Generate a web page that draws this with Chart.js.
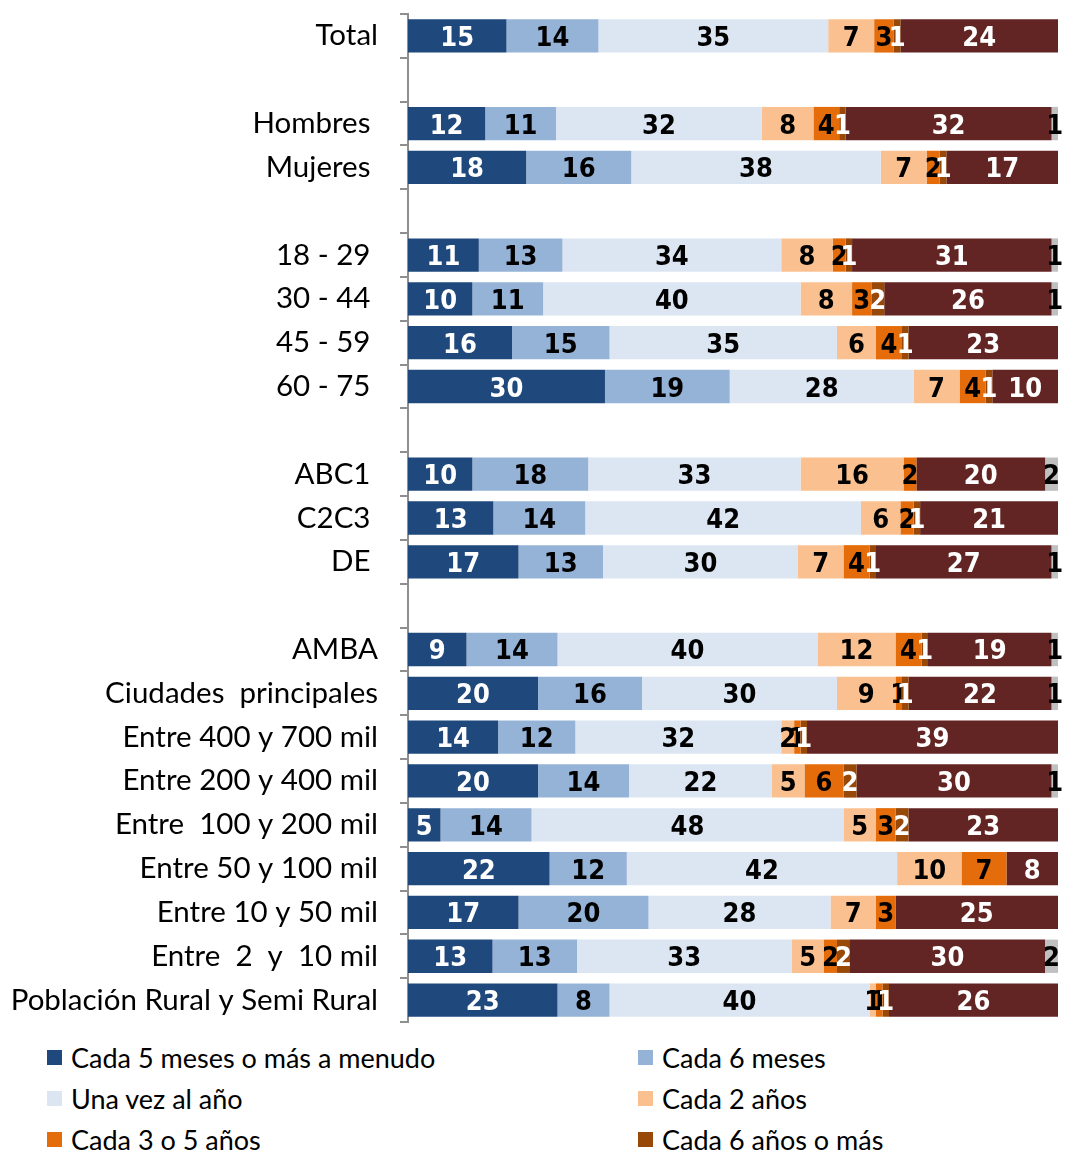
<!DOCTYPE html>
<html lang="es">
<head>
<meta charset="utf-8">
<title>Frecuencia</title>
<script src="https://cdn.jsdelivr.net/npm/chart.js@4.4.1/dist/chart.umd.min.js"></script>
<style>
    body { margin: 0; background: #fff; }
    .wrap { position: relative; width: 1065px; height: 1150px; }
    #chart { position: absolute; left: 0; top: 0; }
    .legend-item {
        position: absolute;
        display: flex;
        align-items: center;
        font: 27px Lato, "Open Sans", sans-serif;
        color: #000;
        white-space: nowrap;
        height: 30px;
    }
    .legend-item span.box {
        display: inline-block;
        width: 15px;
        height: 15px;
        margin-right: 9px;
    }
</style>
</head>
<body>
<div class="wrap">
    <canvas id="chart" width="1065" height="1030"></canvas>
    <div id="legend"></div>
</div>
<script>
/* ── DATA ───────────────────────────────────── */
// empty strings are spacer rows between groups
const categories = [
    'Total', '', 'Hombres ', 'Mujeres ', '',
    '18 - 29 ', '30 - 44 ', '45 - 59 ', '60 - 75 ', '',
    'ABC1 ', 'C2C3 ', 'DE ', '',
    'AMBA', 'Ciudades  principales', 'Entre 400 y 700 mil', 'Entre 200 y 400 mil',
    'Entre  100 y 200 mil', 'Entre 50 y 100 mil', 'Entre 10 y 50 mil', 'Entre  2  y  10 mil',
    'Población Rural y Semi Rural'
];

const cada5Meses   = [15, null, 12, 18, null, 11, 10, 16, 30, null, 10, 13, 17, null,  9, 20, 14, 20,  5, 22, 17, 13, 23];
const cada6Meses   = [14, null, 11, 16, null, 13, 11, 15, 19, null, 18, 14, 13, null, 14, 16, 12, 14, 14, 12, 20, 13,  8];
const unaVezAlAnio = [35, null, 32, 38, null, 34, 40, 35, 28, null, 33, 42, 30, null, 40, 30, 32, 22, 48, 42, 28, 33, 40];
const cada2Anios   = [ 7, null,  8,  7, null,  8,  8,  6,  7, null, 16,  6,  7, null, 12,  9,  2,  5,  5, 10,  7,  5,  1];
const cada3a5Anios = [ 3, null,  4,  2, null,  2,  3,  4,  4, null,  2,  2,  4, null,  4,  1,  1,  6,  3,  7,  3,  2,  1];
const cada6Anios   = [ 1, null,  1,  1, null,  1,  2,  1,  1, null,  0,  1,  1, null,  1,  1,  1,  2,  2,  0,  0,  2,  1];
const nunca        = [24, null, 32, 17, null, 31, 26, 23, 10, null, 20, 21, 27, null, 19, 22, 39, 30, 23,  8, 25, 30, 26];
const nsnc         = [ 0, null,  1,  0, null,  1,  1,  0,  0, null,  2,  0,  1, null,  1,  1,  0,  1,  0,  0,  0,  2,  0];

const series = [
    { name: 'Cada 5 meses o más a menudo', values: cada5Meses,   color: '#1F497D', text: '#fff', legend: true },
    { name: 'Cada 6 meses',                values: cada6Meses,   color: '#95B3D7', text: '#000', legend: true },
    { name: 'Una vez al año',              values: unaVezAlAnio, color: '#DCE6F2', text: '#000', legend: true },
    { name: 'Cada 2 años',                 values: cada2Anios,   color: '#FAC090', text: '#000', legend: true },
    { name: 'Cada 3 o 5 años',             values: cada3a5Anios, color: '#E46C0A', text: '#000', legend: true },
    { name: 'Cada 6 años o más',           values: cada6Anios,   color: '#984807', text: '#fff', legend: true },
    { name: 'Nunca',                       values: nunca,        color: '#632523', text: '#fff', legend: false },
    { name: 'Ns/Nc',                       values: nsnc,         color: '#C0C0C0', text: '#000', legend: false }
];

// 100% stacked: every row is scaled by its own total
const rowTotals = categories.map((_, r) =>
    series.reduce((sum, s) => sum + (s.values[r] || 0), 0));

/* ── VALUE LABELS ───────────────────────────── */
const barLabels = {
    id: 'barLabels',
    afterDatasetsDraw(chart) {
        const ctx = chart.ctx;
        ctx.save();
        ctx.font = 'bold 27px "Liberation Sans Narrow", "DejaVu Sans Condensed", sans-serif';
        ctx.textAlign = 'center';
        ctx.textBaseline = 'middle';
        series.forEach((s, i) => {
            const meta = chart.getDatasetMeta(i);
            meta.data.forEach((bar, j) => {
                const v = s.values[j];
                if (!v) return;
                ctx.fillStyle = s.text;
                ctx.fillText(String(v), (bar.x + bar.base) / 2, bar.y + 3);
            });
        });
        ctx.restore();
    }
};

/* ── CHART ──────────────────────────────────── */
new Chart(document.getElementById('chart'), {
    type: 'bar',
    data: {
        labels: categories,
        datasets: series.map(s => ({
            label: s.name,
            data: s.values.map((v, r) => v === null ? null : v / rowTotals[r] * 100),
            backgroundColor: s.color,
            borderWidth: 0,
            barPercentage: 0.76,
            categoryPercentage: 1
        }))
    },
    options: {
        indexAxis: 'y',
        responsive: false,
        animation: false,
        layout: { padding: { top: 14, right: 7, bottom: 8, left: 0 } },
        plugins: {
            legend: { display: false },
            tooltip: { enabled: false }
        },
        scales: {
            x: { stacked: true, min: 0, max: 100, display: false },
            y: {
                stacked: true,
                afterFit(scale) {
                    scale.width = 408;
                    // no extra room for half labels above/below the rows
                    scale.paddingTop = 0;
                    scale.paddingBottom = 0;
                },
                border: { display: true, color: '#8f8f8f', width: 2 },
                grid: {
                    drawOnChartArea: false,
                    drawTicks: true,
                    tickLength: 8,
                    color: '#8f8f8f',
                    lineWidth: 2
                },
                ticks: {
                    autoSkip: false,
                    padding: 22,
                    color: '#000',
                    font: { family: 'Lato, "Open Sans", sans-serif', size: 29.5 }
                }
            }
        }
    },
    plugins: [barLabels]
});

/* ── LEGEND ─────────────────────────────────── */
const legendEl = document.getElementById('legend');
series.filter(s => s.legend).forEach((s, i) => {
    const item = document.createElement('div');
    item.className = 'legend-item';
    item.style.left = (47 + (i % 2) * 591) + 'px';
    item.style.top  = (1042 + Math.floor(i / 2) * 41) + 'px';
    item.innerHTML = `<span class="box" style="background:${s.color}"></span>${s.name}`;
    legendEl.appendChild(item);
});
</script>
</body>
</html>
